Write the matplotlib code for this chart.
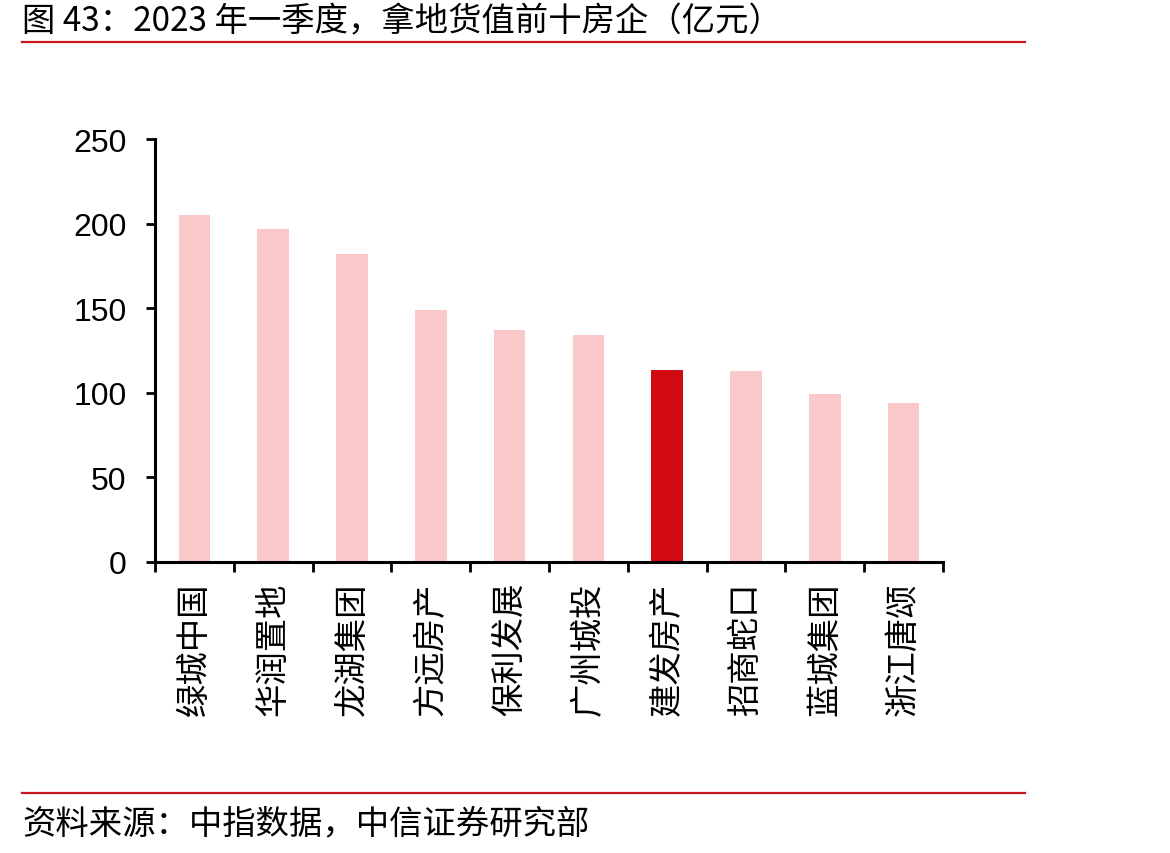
import matplotlib
matplotlib.use("Agg")
import matplotlib.pyplot as plt
from matplotlib.lines import Line2D
import numpy as np

plt.rcParams['font.family'] = ['Noto Sans CJK SC', 'DejaVu Sans']

categories = ["绿城中国", "华润置地", "龙湖集团", "方远房产", "保利发展",
              "广州城投", "建发房产", "招商蛇口", "蓝城集团", "浙江唐颂"]
values = [205, 197, 182, 149, 137, 134, 113.5, 113, 99, 94]
highlight = "建发房产"
y_ticks = [0, 50, 100, 150, 200, 250]

title = "图 43：2023 年一季度，拿地货值前十房企（亿元）"
source = "资料来源：中指数据，中信证券研究部"

pink = "#FBC8CA"
red = "#D20A11"
line_red = "#C8161D"

W, H = 1170, 854
fig = plt.figure(figsize=(W / 100, H / 100), dpi=100)
ax = fig.add_axes([155 / W, 1 - 563 / H, (943 - 155) / W, (563 - 140) / H])

x = np.arange(len(categories))
colors = [red if c == highlight else pink for c in categories]
ax.bar(x, values, width=0.4, color=colors, zorder=2)

ax.set_xlim(-0.5, len(categories) - 0.5)
ax.set_ylim(0, 250)
ax.set_yticks(y_ticks)
ax.set_yticklabels([str(t) for t in y_ticks], fontfamily='Liberation Sans', fontsize=23)
ax.tick_params(axis='y', direction='out', length=6.5, width=2, pad=14)

ax.set_xticks(np.arange(-0.5, len(categories)), minor=False)
ax.set_xticklabels([])
ax.tick_params(axis='x', direction='out', length=7, width=2)
for xi, cat in zip(x, categories):
    ax.text(xi, -0.045, cat, transform=ax.get_xaxis_transform(), rotation=90,
            ha='center', va='top', fontsize=24)

for s in ['top', 'right']:
    ax.spines[s].set_visible(False)
for s in ['left', 'bottom']:
    ax.spines[s].set_linewidth(2.2)

fig.text(22 / W, 1 - 22 / H, title, ha='left', va='center', fontsize=24)
fig.add_artist(Line2D([22 / W, 1025 / W], [1 - 43 / H, 1 - 43 / H], color=line_red, lw=1.6,
                      transform=fig.transFigure))
fig.add_artist(Line2D([22 / W, 1025 / W], [1 - 794 / H, 1 - 794 / H], color=line_red, lw=1.6,
                      transform=fig.transFigure))
fig.text(22 / W, 1 - 824 / H, source, ha='left', va='center', fontsize=24)

fig.savefig("out.png", dpi=100)
